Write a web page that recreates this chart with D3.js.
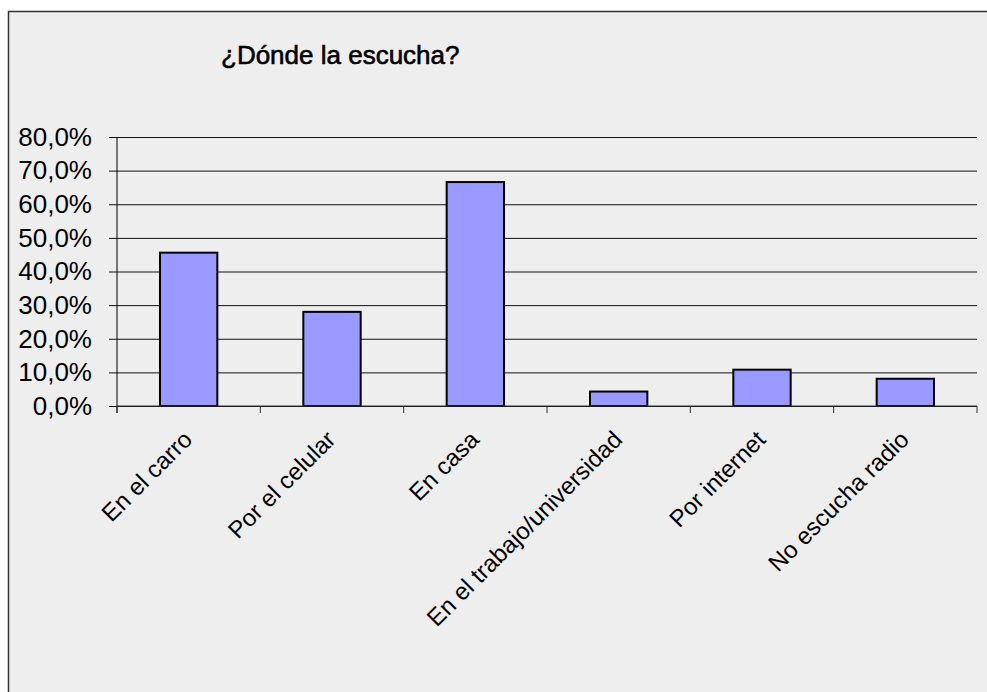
<!DOCTYPE html>
<html lang="es">
<head>
    <meta charset="UTF-8">
    <title>¿Dónde la escucha?</title>
    <script src="https://d3js.org/d3.v7.min.js"></script>
    <style>
        body {
            margin: 0;
            padding: 0;
            background-color: #fff;
            font-family: 'Liberation Sans', Arial, sans-serif;
        }

        svg {
            display: block;
        }
    </style>
</head>
<body>
    <script>
        const categories = ["En el carro", "Por el celular", "En casa", "En el trabajo/universidad", "Por internet", "No escucha radio"];
        const values = [0.456, 0.280, 0.666, 0.043, 0.108, 0.081];
        const yTicks = [0, 0.1, 0.2, 0.3, 0.4, 0.5, 0.6, 0.7, 0.8];
        const title = "¿Dónde la escucha?";

        const width = 987;
        const height = 692;
        const plot = { left: 117, right: 977, top: 137, bottom: 406 };

        const svg = d3.select("body").append("svg")
            .attr("width", width)
            .attr("height", height);

        // chart area frame (runs off the right and bottom of the picture)
        svg.append("rect")
            .attr("x", 8.5)
            .attr("y", 11.5)
            .attr("width", 1000)
            .attr("height", 700)
            .attr("fill", "#eeeeee")
            .attr("stroke", "#333")
            .attr("stroke-width", 1.5);

        // title is a semi-heavy weight in the original, so regular + thin stroke
        svg.append("text")
            .attr("x", 221)
            .attr("y", 64)
            .attr("font-size", "26px")
            .attr("fill", "#000")
            .attr("stroke", "#000")
            .attr("stroke-width", 0.6)
            .text(title);

        const x = d3.scaleBand()
            .domain(categories)
            .range([plot.left, plot.right])
            .paddingInner(0.6)
            .paddingOuter(0.3);

        const y = d3.scaleLinear()
            .domain([0, 0.8])
            .range([plot.bottom, plot.top]);

        const fmt = d => d3.format(".1f")(d * 100).replace(".", ",") + "%";

        // gridlines + y ticks
        const yAxis = svg.append("g")
            .attr("class", "y axis")
            .attr("transform", `translate(${plot.left},0)`)
            .call(d3.axisLeft(y)
                .tickValues(yTicks)
                .tickSize(8)
                .tickPadding(17)
                .tickFormat(fmt));

        yAxis.select(".domain").remove();
        yAxis.selectAll(".tick line")
            .attr("x1", -8)
            .attr("x2", plot.right - plot.left)
            .attr("stroke", "#111");
        yAxis.selectAll(".tick text")
            .attr("font-family", "'Liberation Sans', Arial, sans-serif")
            .attr("font-size", "26px")
            .attr("fill", "#000");

        // bars
        svg.selectAll(".bar")
            .data(values)
            .enter()
            .append("rect")
            .attr("class", "bar")
            .attr("x", (d, i) => x(categories[i]))
            .attr("y", d => y(d))
            .attr("width", x.bandwidth())
            .attr("height", d => y(0) - y(d))
            .attr("fill", "#9999ff")
            .attr("stroke", "#000")
            .attr("stroke-width", 2);

        // axes lines
        svg.append("line")
            .attr("x1", plot.left)
            .attr("x2", plot.left)
            .attr("y1", plot.top)
            .attr("y2", plot.bottom + 7)
            .attr("stroke", "#000");

        svg.append("line")
            .attr("x1", plot.left)
            .attr("x2", plot.right)
            .attr("y1", plot.bottom)
            .attr("y2", plot.bottom)
            .attr("stroke", "#333");

        // category boundary ticks
        const step = x.step();
        svg.selectAll(".xtick")
            .data(d3.range(categories.length + 1))
            .enter()
            .append("line")
            .attr("class", "xtick")
            .attr("x1", i => plot.left + i * step)
            .attr("x2", i => plot.left + i * step)
            .attr("y1", plot.bottom)
            .attr("y2", plot.bottom + 7)
            .attr("stroke", "#333");

        // rotated category labels
        svg.selectAll(".xlabel")
            .data(categories)
            .enter()
            .append("text")
            .attr("class", "xlabel")
            .attr("transform", d => `translate(${x(d) + x.bandwidth() / 2 + 5},${plot.bottom + 35}) rotate(-45)`)
            .attr("text-anchor", "end")
            .attr("font-size", "24px")
            .attr("fill", "#000")
            .text(d => d);
    </script>
</body>
</html>
